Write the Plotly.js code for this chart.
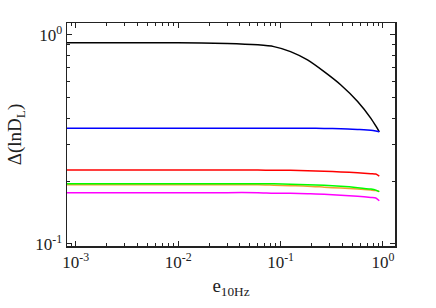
<!DOCTYPE html>
<html>
<head>
<meta charset="utf-8">
<script src="https://cdn.plot.ly/plotly-3.0.1.min.js"></script>
<style>html,body{margin:0;padding:0;background:#fff;}#chart{width:436px;height:308px;}</style>
</head>
<body>
<div id="chart"></div>
<script>
const ecc = [0.00082, 0.01, 0.03, 0.06, 0.086, 0.125, 0.183, 0.266, 0.388, 0.565, 0.762, 0.85, 0.92];
const blackVals = [0.916, 0.916, 0.910, 0.896, 0.879, 0.832, 0.759, 0.667, 0.576, 0.480, 0.399, 0.367, 0.344];
const blueVals = [0.358, 0.358, 0.358, 0.358, 0.358, 0.358, 0.358, 0.357, 0.356, 0.353, 0.350, 0.347, 0.344];
const redVals = [0.226, 0.226, 0.226, 0.226, 0.225, 0.225, 0.224, 0.223, 0.221, 0.219, 0.217, 0.216, 0.211];
const greenVals = [0.194, 0.194, 0.194, 0.194, 0.194, 0.193, 0.192, 0.191, 0.189, 0.186, 0.183, 0.181, 0.178];
const orangeVals = [0.192, 0.192, 0.192, 0.192, 0.191, 0.190, 0.189, 0.187, 0.185, 0.183, 0.181, 0.180, 0.178];
const magentaVals = [0.176, 0.176, 0.176, 0.176, 0.175, 0.175, 0.174, 0.173, 0.171, 0.169, 0.167, 0.166, 0.161];

const xTickVals = [0.001, 0.01, 0.1, 1];
const xTickText = ['10<sup>-3</sup>', '10<sup>-2</sup>', '10<sup>-1</sup>', '10<sup>0</sup>'];
const yTickVals = [0.1, 1];
const yTickText = ['10<sup>-1</sup>', '10<sup>0</sup>'];

const series = [
  {y: blackVals, color: '#000000'},
  {y: blueVals, color: '#0000ff'},
  {y: redVals, color: '#ff0000'},
  {y: orangeVals, color: '#f0a030'},
  {y: greenVals, color: '#00ff00'},
  {y: magentaVals, color: '#ff00ff'}
];
const traces = series.map(s => ({
  x: ecc, y: s.y, type: 'scatter', mode: 'lines',
  line: {color: s.color, width: 1.5, shape: 'spline', smoothing: 0.6},
  hoverinfo: 'skip'
}));

const fam = '"Liberation Serif", "Times New Roman", serif';
const font = {family: fam, size: 17, color: '#222'};
const axisCommon = {
  type: 'log', showgrid: false, zeroline: false,
  showline: true, linecolor: '#222', linewidth: 1.5, mirror: 'allticks',
  ticks: 'inside', ticklen: 5, tickwidth: 1, tickcolor: '#222',
  tickmode: 'array',
  minor: {dtick: 'D1', ticks: 'inside', ticklen: 3, tickwidth: 1, tickcolor: '#222', showgrid: false},
  tickfont: font
};
const layout = {
  width: 436, height: 308,
  margin: {l: 67, r: 41, t: 23, b: 62},
  paper_bgcolor: '#fff', plot_bgcolor: '#fff',
  showlegend: false,
  font: font,
  xaxis: Object.assign({}, axisCommon, {
    range: [Math.log10(0.00082), Math.log10(1.31)],
    tickvals: xTickVals, ticktext: xTickText,
    title: {text: 'e<sub>10Hz</sub>', font: {family: fam, size: 19, color: '#222'}, standoff: 8}
  }),
  yaxis: Object.assign({}, axisCommon, {
    range: [Math.log10(0.0978), Math.log10(1.14)],
    tickvals: yTickVals, ticktext: yTickText,
    title: {text: 'Δ(lnD<sub>L</sub>)', font: {family: fam, size: 19, color: '#222'}, standoff: 8}
  })
};
Plotly.newPlot('chart', traces, layout, {staticPlot: true, displayModeBar: false});
</script>
</body>
</html>
